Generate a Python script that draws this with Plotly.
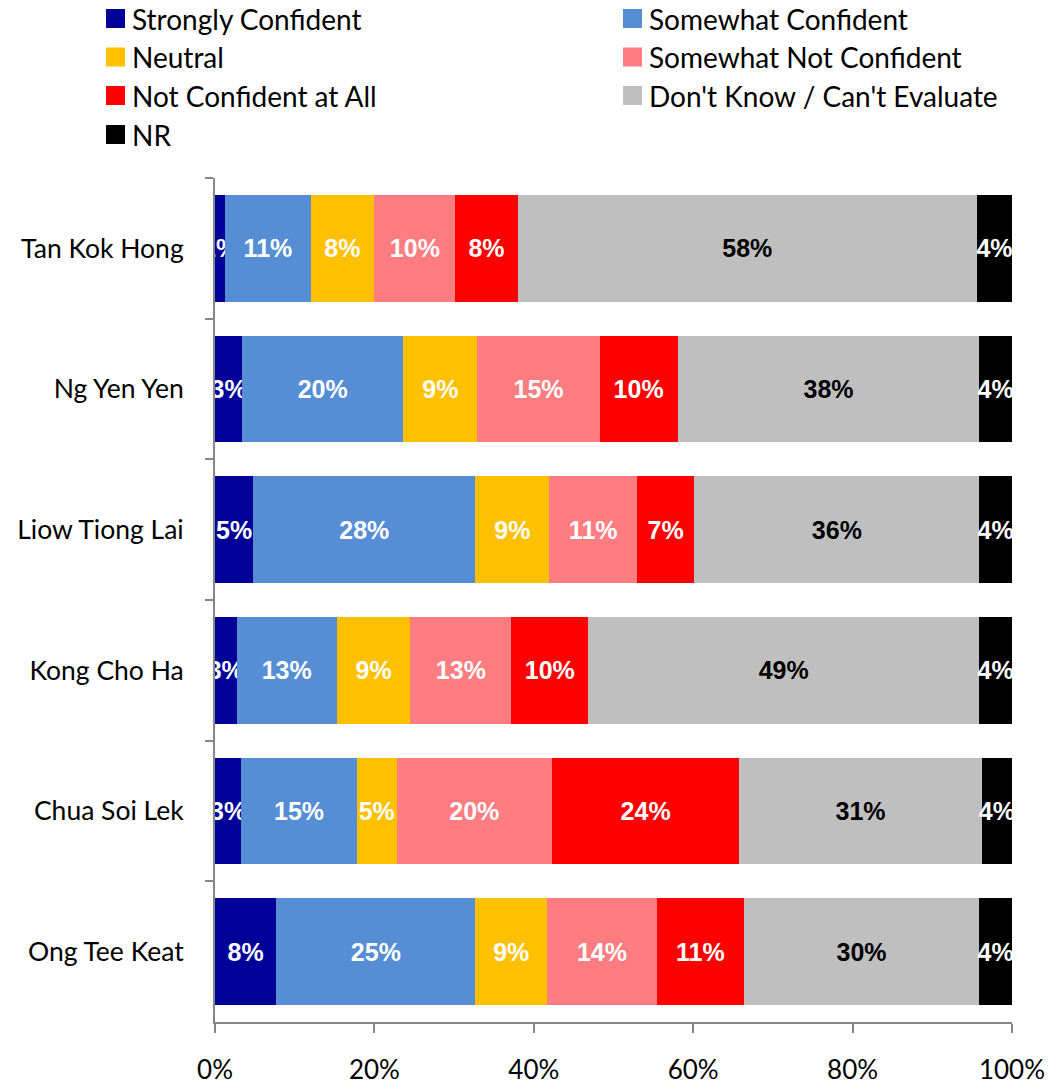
import plotly.graph_objects as go

categories = ["Tan Kok Hong", "Ng Yen Yen", "Liow Tiong Lai", "Kong Cho Ha", "Chua Soi Lek", "Ong Tee Keat"]
series_names = ["Strongly Confident", "Somewhat Confident", "Neutral", "Somewhat Not Confident",
                "Not Confident at All", "Don't Know / Can't Evaluate", "NR"]
strongly = [1.3, 3.4, 4.8, 2.7, 3.3, 7.7]
somewhat = [10.7, 20.2, 27.9, 12.6, 14.6, 25.0]
neutral = [8.0, 9.3, 9.3, 9.2, 5.0, 9.0]
somewhat_not = [10.2, 15.3, 11.0, 12.7, 19.6, 13.8]
not_at_all = [7.8, 9.8, 7.2, 9.6, 23.6, 10.9]
dont_know = [57.7, 37.8, 35.8, 49.1, 30.6, 29.6]
nr = [4.4, 4.1, 4.1, 4.1, 3.8, 4.1]
x_ticks = [0, 20, 40, 60, 80, 100]
x_tick_labels = ["0%", "20%", "40%", "60%", "80%", "100%"]

series_values = [strongly, somewhat, neutral, somewhat_not, not_at_all, dont_know, nr]
colors = ["#000099", "#558ED5", "#FFC000", "#FF7C80", "#FF0000", "#BFBFBF", "#000000"]
text_colors = ["white", "white", "white", "white", "white", "black", "white"]

W, H = 1049, 1085
L, R, T, B = 215, 1012, 178, 1022

fig = go.Figure()
for name, vals, col, tcol in zip(series_names, series_values, colors, text_colors):
    fig.add_trace(go.Bar(
        y=categories, x=vals, name=name, orientation="h",
        marker=dict(color=col, line=dict(width=0)),
        customdata=vals,
        texttemplate="%{customdata:.0f}%",
        textposition="inside", insidetextanchor="middle", textangle=0,
        textfont=dict(family="Liberation Sans", size=25, color=tcol, weight="bold"),
        cliponaxis=True, showlegend=False, hoverinfo="skip",
    ))

# manual legend (two columns)
def px_x(p):
    return (p - L) / (R - L)

def px_y(p):
    return (B - p) / (B - T)

legend_font = dict(family="Lato", size=28, color="black")
col_x = [106, 623]
row_y = [18.5, 57, 95.5, 134.5]
for i, (name, col) in enumerate(zip(series_names, colors)):
    cx = col_x[i % 2]
    cy = row_y[i // 2]
    fig.add_shape(type="rect", xref="paper", yref="paper",
                  x0=px_x(cx), x1=px_x(cx + 19), y0=px_y(cy - 9.5), y1=px_y(cy + 9.5),
                  fillcolor=col, line=dict(width=0))
    fig.add_annotation(x=px_x(cx + 24), y=px_y(cy), xref="paper", yref="paper",
                       text=name, showarrow=False, xanchor="left", yanchor="middle",
                       font=legend_font)

fig.update_layout(
    width=W, height=H,
    margin=dict(l=L, r=W - R, t=T, b=H - B, autoexpand=False),
    barmode="stack", barnorm="percent", bargap=0.24,
    plot_bgcolor="white", paper_bgcolor="white",
    uniformtext=dict(minsize=25, mode="show"),
    font=dict(family="Lato", size=26, color="black"),
)
fig.update_xaxes(range=[0, 100], tickvals=x_ticks, ticktext=x_tick_labels, automargin=False,
                 showgrid=False, zeroline=False, showline=True, linecolor="#868686", linewidth=2,
                 ticks="outside", ticklen=9, tickwidth=2, tickcolor="#868686",
                 ticklabelstandoff=15, tickfont=dict(family="Lato", size=26, color="black"))
fig.update_yaxes(type="category", autorange="reversed", tickson="boundaries", automargin=False,
                 showgrid=False, zeroline=False, showline=True, linecolor="#868686", linewidth=2,
                 ticks="outside", ticklen=8, tickwidth=2, tickcolor="#868686",
                 ticklabelstandoff=24, tickfont=dict(family="Lato", size=26.5, color="black"))

fig.write_html("out.html", config={"displayModeBar": False},
               post_script="document.body.style.margin='0';document.body.style.overflow='hidden';")
